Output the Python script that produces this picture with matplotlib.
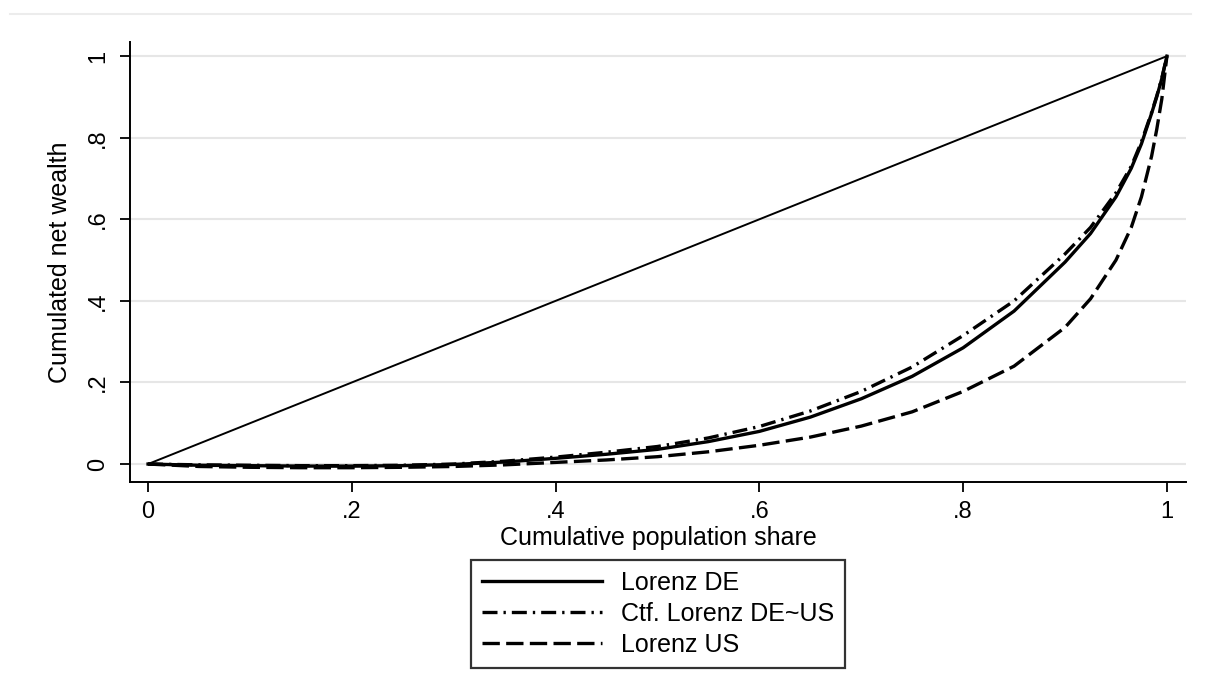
#!/usr/bin/env python3

import numpy as np
import matplotlib.pyplot as plt
from matplotlib.lines import Line2D

plt.rcParams['font.family'] = ['Liberation Sans', 'DejaVu Sans']

# cumulative population share and net wealth shares
pop_share = [0.0, 0.05, 0.1, 0.15, 0.2, 0.25, 0.3, 0.35, 0.4, 0.45, 0.5, 0.55,
             0.6, 0.65, 0.7, 0.75, 0.8, 0.85, 0.9, 0.925, 0.95, 0.965, 0.975,
             0.985, 0.99, 0.995, 1.0]
lorenz_de = [0.0, -0.003, -0.004, -0.005, -0.005, -0.004, -0.001, 0.005, 0.014,
             0.024, 0.036, 0.055, 0.080, 0.115, 0.160, 0.215, 0.285, 0.375,
             0.495, 0.565, 0.655, 0.725, 0.785, 0.860, 0.900, 0.945, 1.0]
ctf_de_us = [0.0, -0.002, -0.003, -0.004, -0.004, -0.003, 0.000, 0.007, 0.017,
             0.029, 0.043, 0.064, 0.092, 0.130, 0.178, 0.238, 0.315, 0.400,
             0.515, 0.580, 0.665, 0.730, 0.790, 0.862, 0.902, 0.946, 1.0]
lorenz_us = [0.0, -0.006, -0.008, -0.009, -0.009, -0.008, -0.006, -0.002, 0.004,
             0.010, 0.018, 0.030, 0.046, 0.066, 0.093, 0.128, 0.178, 0.240,
             0.335, 0.405, 0.500, 0.580, 0.655, 0.755, 0.820, 0.895, 1.0]
equality = [0.0, 1.0]

ticks = [0, 0.2, 0.4, 0.6, 0.8, 1.0]
tick_labels = ['0', '.2', '.4', '.6', '.8', '1']

fig = plt.figure(figsize=(12.05, 6.93), dpi=100)
ax = fig.add_axes([0.1079, 0.3045, 0.8763, 0.6345])

ax.plot([0, 1], equality, color='black', lw=1.4)
l1, = ax.plot(pop_share, lorenz_de, color='black', lw=2.4, label='Lorenz DE')
l2, = ax.plot(pop_share, ctf_de_us, color='black', lw=2.4,
              dashes=(4.5, 1.8, 0.7, 1.8), label='Ctf. Lorenz DE~US')
l3, = ax.plot(pop_share, lorenz_us, color='black', lw=2.4,
              dashes=(5.2, 1.9), label='Lorenz US')

ax.set_xlim(-0.0177, 1.0187)
ax.set_ylim(-0.044, 1.034)
ax.set_xticks(ticks)
ax.set_xticklabels(tick_labels)
ax.set_yticks(ticks)
ax.set_yticklabels(tick_labels, rotation=90, va='center')
ax.tick_params(direction='out', length=7, width=1.3, labelsize=17,
               colors='black')
ax.tick_params(axis='x', pad=7)
ax.tick_params(axis='y', pad=8)
ax.yaxis.grid(True, color='#e6e6e6', lw=1.5)
ax.set_axisbelow(True)
for s in ['top', 'right']:
    ax.spines[s].set_visible(False)
for s in ['left', 'bottom']:
    ax.spines[s].set_linewidth(1.4)

ax.set_xlabel('Cumulative population share', fontsize=18, labelpad=2)
ax.set_ylabel('Cumulated net wealth', fontsize=18, labelpad=11)

leg = ax.legend(handles=[l1, l2, l3], loc='upper center',
                bbox_to_anchor=(0.5, -0.177), borderaxespad=0, fontsize=18,
                frameon=True, fancybox=False, handlelength=4.8,
                handletextpad=0.76, labelspacing=0.28, borderpad=0.45)
leg.get_frame().set_edgecolor('black')
leg.get_frame().set_linewidth(1.6)

# faint outer frame line
fig.add_artist(Line2D([0.008, 0.988], [0.98, 0.98], color='#ececec', lw=1.5))

fig.savefig('out.png', dpi=100)
